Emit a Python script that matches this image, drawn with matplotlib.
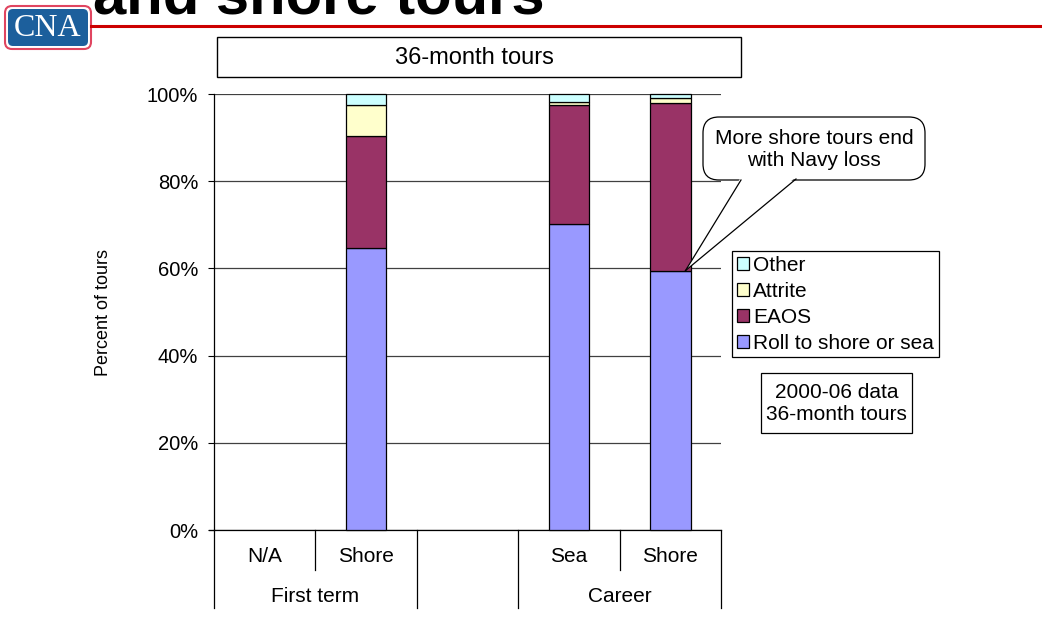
import matplotlib
matplotlib.use('Agg')
import matplotlib.pyplot as plt
import numpy as np
from matplotlib.patches import Rectangle, FancyBboxPatch, Polygon
from matplotlib.lines import Line2D
from matplotlib.ticker import FuncFormatter

plt.rcParams['font.family'] = ['Liberation Sans', 'DejaVu Sans']

# data (percent of tours)
categories = ['N/A', 'Shore', '', 'Sea', 'Shore']
groups = ['First term', '', 'Career']
group_sizes = [2, 1, 2]
roll = np.array([np.nan, 64.6, np.nan, 70.2, 59.5])
eaos = np.array([np.nan, 25.8, np.nan, 27.2, 38.4])
attrite = np.array([np.nan, 7.1, np.nan, 0.8, 1.2])
other = np.array([np.nan, 2.5, np.nan, 1.8, 0.9])
series = [('Roll to shore or sea', roll, '#9999FF'),
          ('EAOS', eaos, '#993366'),
          ('Attrite', attrite, '#FFFFCC'),
          ('Other', other, '#CCFFFF')]

W, H = 1042, 623
fig = plt.figure(figsize=(W / 100, H / 100), dpi=100)
ax = fig.add_axes([214 / W, 1 - 530 / H, (721 - 214) / W, (530 - 94) / H])

x = np.arange(len(categories))
bottom = np.zeros(len(categories))
bars = []
for name, vals, col in series:
    b = ax.bar(x, vals, 0.4, bottom=bottom, color=col, edgecolor='black',
               linewidth=0.9, label=name, clip_on=False, zorder=3)
    bars.append(b)
    bottom = bottom + vals

ax.set_xlim(-0.5, len(categories) - 0.5)
ax.set_ylim(0, 100)
ax.set_yticks(np.arange(0, 101, 20))
ax.yaxis.set_major_formatter(FuncFormatter(lambda v, p: f'{v:.0f}%'))
ax.yaxis.grid(True, color='#404040', linewidth=0.9)
ax.set_axisbelow(True)
for s in ['top', 'right']:
    ax.spines[s].set_visible(False)
for s in ['left', 'bottom']:
    ax.spines[s].set_color('black')
    ax.spines[s].set_linewidth(0.9)
ax.tick_params(axis='y', direction='out', length=4.3, width=0.8, labelsize=14.5, pad=7)
ax.set_xticks(x)
ax.set_xticklabels(categories)
ax.tick_params(axis='x', length=0, labelsize=15, pad=12)

# category separators under the axis
axh = 530 - 94
tr = ax.get_xaxis_transform()
edges = np.arange(len(categories) + 1) - 0.5
group_edges = np.concatenate([[0], np.cumsum(group_sizes)]) - 0.5
for e in edges:
    depth = 78 if e in group_edges else 40
    ax.add_line(Line2D([e, e], [0, -depth / axh], transform=tr, color='black',
                       linewidth=0.9, clip_on=False))
ax.add_line(Line2D([-0.55, -0.5], [0, 0], transform=tr, color='black',
                   linewidth=0.9, clip_on=False))
start = 0
for g, n in zip(groups, group_sizes):
    ax.text(start + (n - 1) / 2, -66 / axh, g, transform=tr, ha='center',
            va='center', fontsize=15)
    start += n

leg = fig.legend(handles=bars[::-1], labels=[s[0] for s in series][::-1],
                 loc='upper left', bbox_to_anchor=(732 / W, 1 - 251 / H),
                 frameon=True, fancybox=False, edgecolor='black', framealpha=1,
                 fontsize=15, handlelength=0.6, handleheight=0.6,
                 handletextpad=0.2, labelspacing=0.34, borderpad=0.22,
                 borderaxespad=0)
leg.get_frame().set_linewidth(0.9)

# overlay in pixel coordinates for the slide decorations
ov = fig.add_axes([0, 0, 1, 1])
ov.set_xlim(0, W)
ov.set_ylim(H, 0)
ov.axis('off')
ov.patch.set_alpha(0)

# header
ov.text(93, 13, 'and shore tours', fontsize=43, weight='bold', ha='left', va='baseline')
ov.add_line(Line2D([91, W], [25.5, 25.5], color='#CC0000', linewidth=2.2))
ov.add_patch(FancyBboxPatch((5, 6), 86, 43, boxstyle='round,pad=0,rounding_size=7',
                            fc='white', ec='#E04560', lw=1.5))
ov.add_patch(FancyBboxPatch((8, 9), 80, 37, boxstyle='round,pad=0,rounding_size=5',
                            fc='#1C5F9C', ec='none'))
ov.text(48, 29, 'CNA', family=['Liberation Serif', 'DejaVu Serif'], fontsize=23,
        color='white', ha='center', va='center')

# chart title box
ov.add_patch(Rectangle((217, 37), 524, 40, fc='white', ec='black', lw=1))
ov.text(474, 58, '36-month tours', fontsize=17, ha='center', va='center')

ov.text(103, 312, 'Percent of tours', rotation=90, ha='center', va='center', fontsize=13)

# data note box
ov.add_patch(Rectangle((761, 373), 151, 60, fc='white', ec='black', lw=0.9))
ov.text(836.5, 403, '2000-06 data\n36-month tours', ha='center', va='center',
        fontsize=15, linespacing=1.2)

# callout pointing at career shore bar
tip_disp = ax.transData.transform((4.15, roll[4]))
tip = ov.transData.inverted().transform(tip_disp)
ov.add_patch(FancyBboxPatch((703, 117), 222, 63, boxstyle='round,pad=0,rounding_size=16',
                            fc='white', ec='black', lw=0.9))
base_l, base_r = (741, 180), (796, 179)
ov.add_patch(Polygon([(base_l[0], 177), tip, (base_r[0], 177)], closed=True,
                     fc='white', ec='none'))
ov.add_line(Line2D([base_l[0], tip[0]], [base_l[1], tip[1]], color='black', lw=0.9))
ov.add_line(Line2D([base_r[0], tip[0]], [base_r[1], tip[1]], color='black', lw=0.9))
ov.text(814, 149, 'More shore tours end\nwith Navy loss', ha='center', va='center',
        fontsize=15, linespacing=1.2)

fig.savefig('out.png', dpi=100)
